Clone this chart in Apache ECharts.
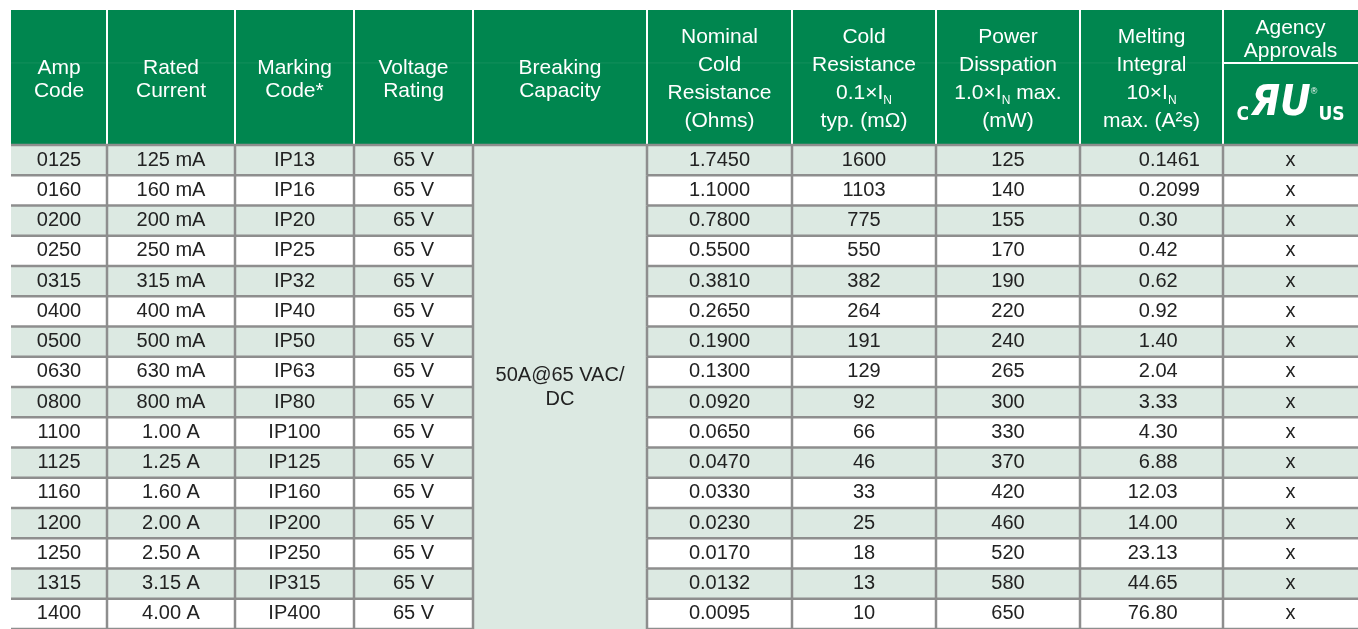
<!DOCTYPE html>
<html>
<head>
<meta charset="utf-8">
<script src="https://cdn.jsdelivr.net/npm/echarts@6/dist/echarts.min.js"></script>
<style>
  html, body { margin: 0; padding: 0; background: #fff; }
  #main { width: 1358px; height: 629px; }
</style>
</head>
<body>
<div id="main"></div>
<script>
(function() {
  // table data
  var ampCodes = ['0125', '0160', '0200', '0250', '0315', '0400', '0500', '0630', '0800', '1100', '1125', '1160', '1200', '1250', '1315', '1400'];
  var ratedCurrent = ['125 mA', '160 mA', '200 mA', '250 mA', '315 mA', '400 mA', '500 mA', '630 mA', '800 mA', '1.00 A', '1.25 A', '1.60 A', '2.00 A', '2.50 A', '3.15 A', '4.00 A'];
  var markingCodes = ['IP13', 'IP16', 'IP20', 'IP25', 'IP32', 'IP40', 'IP50', 'IP63', 'IP80', 'IP100', 'IP125', 'IP160', 'IP200', 'IP250', 'IP315', 'IP400'];
  var voltageRating = ['65 V', '65 V', '65 V', '65 V', '65 V', '65 V', '65 V', '65 V', '65 V', '65 V', '65 V', '65 V', '65 V', '65 V', '65 V', '65 V'];
  var breakingCapacity = '50A@65 VAC/\nDC';
  var nominalColdResistance = ['1.7450', '1.1000', '0.7800', '0.5500', '0.3810', '0.2650', '0.1900', '0.1300', '0.0920', '0.0650', '0.0470', '0.0330', '0.0230', '0.0170', '0.0132', '0.0095'];
  var coldResistance = ['1600', '1103', '775', '550', '382', '264', '191', '129', '92', '66', '46', '33', '25', '18', '13', '10'];
  var powerDissipation = ['125', '140', '155', '170', '190', '220', '240', '265', '300', '330', '370', '420', '460', '520', '580', '650'];
  var meltingIntegral = ['0.1461', '0.2099', '0.30', '0.42', '0.62', '0.92', '1.40', '2.04', '3.33', '4.30', '6.88', '12.03', '14.00', '23.13', '44.65', '76.80'];
  var agencyApprovals = ['x', 'x', 'x', 'x', 'x', 'x', 'x', 'x', 'x', 'x', 'x', 'x', 'x', 'x', 'x', 'x'];

  var headerLabels = [
    'Amp\nCode',
    'Rated\nCurrent',
    'Marking\nCode*',
    'Voltage\nRating',
    'Breaking\nCapacity',
    'Nominal\nCold\nResistance\n(Ohms)',
    'Cold\nResistance\n0.1×I{s|N}\ntyp. (mΩ)',
    'Power\nDisspation\n1.0×I{s|N} max.\n(mW)',
    'Melting\nIntegral\n10×I{s|N}\nmax. (A²s)',
    'Agency\nApprovals'
  ];

  var columns = [ampCodes, ratedCurrent, markingCodes, voltageRating, null,
    nominalColdResistance, coldResistance, powerDissipation, meltingIntegral, agencyApprovals];

  // layout
  var colWidths = [96, 128, 119, 119, 174, 145, 144, 144, 143, 135];
  var colEdges = [0];
  for (var i = 0; i < colWidths.length; i++) {
    colEdges.push(colEdges[i] + colWidths[i]);
  }
  var totalWidth = colEdges[colEdges.length - 1];
  var rowHeight = 30.6;

  var green = '#00864f';
  var stripe = '#dce9e2';
  var borderColor = '#8e8e8e';
  var textColor = '#222';
  var font = '"Liberation Sans", Arial, sans-serif';
  var logoFont = '"DejaVu Sans Condensed", "DejaVu Sans", sans-serif';

  var myChart = echarts.init(document.getElementById('main'));

  // header cells
  var headerData = [];
  for (var c = 0; c < headerLabels.length; c++) {
    headerData.push([c, 0]);
  }

  // body cells (breaking capacity is one merged cell)
  var cells = [];
  for (var r = 0; r < ampCodes.length; r++) {
    for (var c = 0; c < columns.length; c++) {
      if (!columns[c]) continue;
      cells.push({ value: [c, r], text: columns[c][r] });
    }
  }

  function renderHeader(params, api) {
    var c = api.value(0);
    var p0 = api.coord([colEdges[c], 0]);
    var p1 = api.coord([colEdges[c + 1], 0]);
    var h = api.size([0, 1])[1];
    var x = p0[0], y = p0[1] - h / 2, w = p1[0] - p0[0];
    var label = headerLabels[c];
    var nLines = label.split('\n').length;
    var topH = h * 0.395;
    var children = [
      { type: 'rect', shape: { x: x, y: y, width: w, height: h }, style: { fill: green } }
    ];
    if (c > 0) {
      children.push({ type: 'line', z2: 5, shape: { x1: x, y1: y, x2: x, y2: y + h }, style: { stroke: '#fff', lineWidth: 2 } });
    }
    var richStyle = {
      s: { fontSize: 12, fontFamily: font, fill: '#fff', lineHeight: 14, verticalAlign: 'bottom' }
    };
    if (c === 9) {
      children.push({
        type: 'text', z2: 6,
        style: { x: x + w / 2, y: y + topH / 2 + 3, text: label, fill: '#fff', fontSize: 21, fontFamily: font,
          lineHeight: 23, align: 'center', verticalAlign: 'middle' }
      });
      children.push({ type: 'line', z2: 5, shape: { x1: x, y1: y + topH, x2: x + w, y2: y + topH }, style: { stroke: '#fff', lineWidth: 2 } });
      children.push({
        type: 'text', z2: 6,
        style: {
          x: x + w / 2, y: y + topH + (h - topH) / 2 + 1,
          text: '{c|C}{ul|ЯU}{reg|®}{us|US}',
          align: 'center', verticalAlign: 'middle',
          rich: {
            c: { fontSize: 19, fontWeight: 'bold', fontFamily: logoFont, fill: '#fff', lineHeight: 19, verticalAlign: 'bottom', padding: [0, 2, 0, 0] },
            ul: { fontSize: 42, fontWeight: 'bold', fontStyle: 'italic', fontFamily: logoFont, fill: '#fff', lineHeight: 40 },
            reg: { fontSize: 9, fontFamily: font, fill: '#fff', lineHeight: 12, verticalAlign: 'top', padding: [3, 1, 0, 0] },
            us: { fontSize: 19, fontWeight: 'bold', fontFamily: logoFont, fill: '#fff', lineHeight: 19, verticalAlign: 'bottom' }
          }
        }
      });
    } else {
      children.push({
        type: 'text', z2: 6,
        style: { x: x + w / 2, y: y + h / 2 + (nLines > 2 ? 2 : 3), text: label, fill: '#fff', fontSize: 21, fontFamily: font,
          lineHeight: nLines > 2 ? 28 : 23, align: 'center', verticalAlign: 'middle', rich: richStyle }
      });
      // faint guide line seen across the header
      children.push({ type: 'line', z2: 1, shape: { x1: x, y1: y + topH, x2: x + w, y2: y + topH }, style: { stroke: 'rgba(255,255,255,0.08)', lineWidth: 1 } });
    }
    return { type: 'group', children: children };
  }

  function renderCell(params, api) {
    var c = api.value(0), r = api.value(1);
    var p0 = api.coord([colEdges[c], r]);
    var p1 = api.coord([colEdges[c + 1], r]);
    var h = api.size([0, 1])[1];
    var x = p0[0], y = p0[1] - h / 2, w = p1[0] - p0[0];
    var text = cells[params.dataIndex].text;
    var children = [
      { type: 'rect', shape: { x: x, y: y, width: w, height: h }, style: { fill: r % 2 === 0 ? stripe : '#fff' } },
      { type: 'line', z2: 10, shape: { x1: x, y1: y + h, x2: x + w, y2: y + h }, style: { stroke: borderColor, lineWidth: 2.5 } }
    ];
    if (r === 0) {
      children.push({ type: 'line', z2: 10, shape: { x1: x, y1: y, x2: x + w, y2: y }, style: { stroke: borderColor, lineWidth: 2.5 } });
    }
    if (c > 0) {
      children.push({ type: 'line', z2: 10, shape: { x1: x, y1: y, x2: x, y2: y + h }, style: { stroke: borderColor, lineWidth: 2.5 } });
    }
    var base = { fill: textColor, fontSize: 20, fontFamily: font, verticalAlign: 'middle' };
    if (c === 8) {
      // melting integral is aligned on the decimal point
      var dot = text.indexOf('.');
      var ax = x + w / 2 + 4;
      children.push({ type: 'text', z2: 12, style: echarts.util.extend({ x: ax, y: y + h / 2, text: text.slice(0, dot + 1), align: 'right' }, base) });
      children.push({ type: 'text', z2: 12, style: echarts.util.extend({ x: ax, y: y + h / 2, text: text.slice(dot + 1), align: 'left' }, base) });
    } else {
      children.push({ type: 'text', z2: 12, style: echarts.util.extend({ x: x + w / 2, y: y + h / 2, text: text, align: 'center' }, base) });
    }
    return { type: 'group', children: children };
  }

  function renderMerged(params, api) {
    var last = ampCodes.length - 1;
    var p0 = api.coord([colEdges[4], 0]);
    var p1 = api.coord([colEdges[5], last]);
    var h = api.size([0, 1])[1];
    var x = p0[0], y = p0[1] - h / 2, w = p1[0] - p0[0], hh = p1[1] + h / 2 - y;
    return {
      type: 'group',
      children: [
        { type: 'rect', shape: { x: x, y: y, width: w, height: hh }, style: { fill: stripe } },
        { type: 'line', z2: 10, shape: { x1: x, y1: y, x2: x + w, y2: y }, style: { stroke: borderColor, lineWidth: 2.5 } },
        { type: 'line', z2: 10, shape: { x1: x, y1: y, x2: x, y2: y + hh }, style: { stroke: borderColor, lineWidth: 2.5 } },
        { type: 'text', z2: 12, style: { x: x + w / 2, y: y + hh / 2, text: breakingCapacity, fill: textColor, fontSize: 20,
          fontFamily: font, lineHeight: 24, align: 'center', verticalAlign: 'middle' } }
      ]
    };
  }

  var option = {
    animation: false,
    grid: [
      { left: 11, right: 0, top: 10, height: 134 },
      { left: 11, right: 0, top: 145, height: rowHeight * ampCodes.length }
    ],
    xAxis: [
      { gridIndex: 0, type: 'value', min: 0, max: totalWidth, show: false },
      { gridIndex: 1, type: 'value', min: 0, max: totalWidth, show: false }
    ],
    yAxis: [
      { gridIndex: 0, type: 'category', data: ['header'], show: false },
      { gridIndex: 1, type: 'category', data: ampCodes, inverse: true, show: false }
    ],
    series: [
      {
        type: 'custom', xAxisIndex: 0, yAxisIndex: 0,
        renderItem: renderHeader, data: headerData, encode: { x: 0, y: 1 }, clip: false, silent: true
      },
      {
        type: 'custom', xAxisIndex: 1, yAxisIndex: 1,
        renderItem: renderMerged, data: [[4, 0]], encode: { x: 0, y: 1 }, clip: false, silent: true
      },
      {
        type: 'custom', xAxisIndex: 1, yAxisIndex: 1,
        renderItem: renderCell, data: cells, encode: { x: 0, y: 1 }, clip: false, silent: true
      }
    ]
  };

  myChart.setOption(option);
  window.addEventListener('resize', function() {
    myChart.resize();
  });
})();
</script>
</body>
</html>
